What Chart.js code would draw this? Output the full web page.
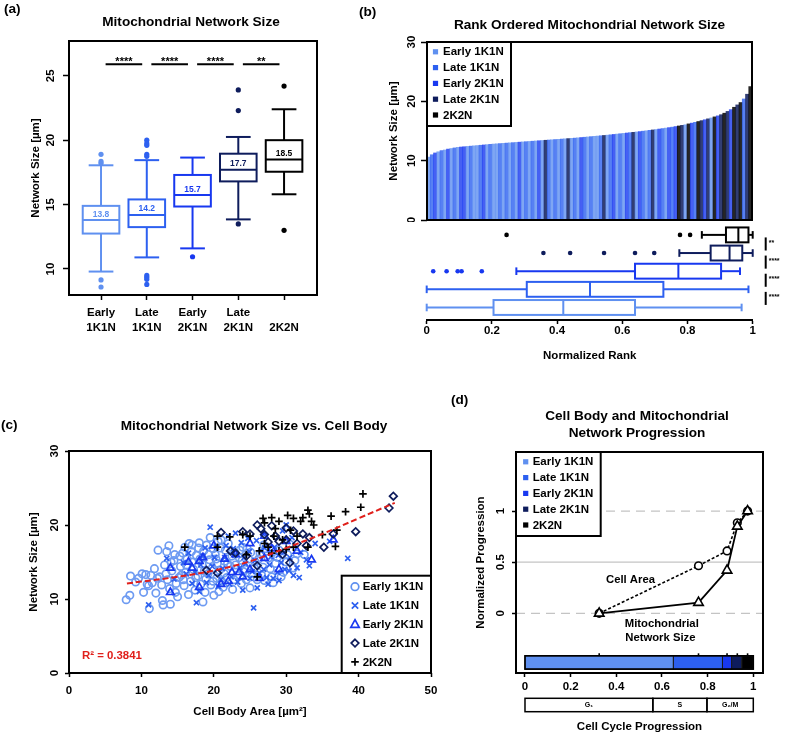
<!DOCTYPE html>
<html>
<head>
<meta charset="utf-8">
<title>Mitochondrial network size</title>
<script src="https://cdn.jsdelivr.net/npm/chart.js@4.4.1/dist/chart.umd.min.js"></script>
<style>
  html, body { margin: 0; padding: 0; background: #fff; }
  body { position: relative; width: 787px; height: 735px; overflow: hidden;
         font-family: "Liberation Sans", Arial, sans-serif; font-weight: bold; color: #000; }
  canvas { position: absolute; }
  .t { position: absolute; font-size: 13.6px; line-height: 16px; white-space: nowrap; }
  .c { text-align: center; width: 400px; }
</style>
</head>
<body>
<canvas id="chartA" width="340" height="345" style="left:0;top:0"></canvas>
<canvas id="chartB" width="400" height="222" style="left:380px;top:0"></canvas>
<canvas id="chartBox" width="407" height="150" style="left:380px;top:222px"></canvas>
<canvas id="chartC" width="450" height="355" style="left:0;top:380px"></canvas>
<canvas id="chartD" width="337" height="355" style="left:450px;top:380px"></canvas>

<div class="t" style="left:4px;top:1px">(a)</div>
<div class="t c" style="left:-9px;top:14px">Mitochondrial Network Size</div>
<div class="t" style="left:359px;top:4px">(b)</div>
<div class="t c" style="left:389.5px;top:17px">Rank Ordered Mitochondrial Network Size</div>
<div class="t" style="left:1px;top:417px">(c)</div>
<div class="t c" style="left:54px;top:418px">Mitochondrial Network Size vs. Cell Body</div>
<div class="t" style="left:451px;top:392px">(d)</div>
<div class="t c" style="left:437px;top:408px;line-height:16.6px">Cell Body and Mitochondrial<br>Network Progression</div>

<script>
const FONT = '"Liberation Sans", Arial, sans-serif';

// groups and their colours
const groups = ['Early 1K1N', 'Late 1K1N', 'Early 2K1N', 'Late 2K1N', '2K2N'];
const groupColors = ['#5f90f0', '#2d60f0', '#1838f0', '#0e1c5c', '#000000'];
const barColors = ['rgba(95,144,240,0.8)', 'rgba(45,96,240,0.8)', 'rgba(24,56,240,0.8)', 'rgba(14,28,92,0.85)', 'rgba(0,0,0,0.85)'];

// (a) network size per stage [µm]
const aTicksY = [10, 15, 20, 25];
const aTickLabels = [['Early', '1K1N'], ['Late', '1K1N'], ['Early', '2K1N'], ['Late', '2K1N'], ['', '2K2N']];
const aLow = [9.8, 10.9, 11.6, 13.85, 15.8];
const aQ1 = [12.75, 13.25, 14.85, 16.8, 17.55];
const aMed = [13.8, 14.2, 15.75, 17.7, 18.5];
const aQ3 = [14.9, 15.4, 17.3, 18.95, 20.0];
const aHigh = [18.05, 18.45, 18.65, 20.25, 22.4];
const aMedLabels = ['13.8', '14.2', '15.7', '17.7', '18.5'];
const aOutliers = [
  [18.9, 18.35, 18.2, 9.15, 8.6],
  [20.0, 19.75, 19.6, 18.9, 18.75, 9.5, 9.35, 9.2, 8.8],
  [10.95],
  [23.9, 22.3, 13.5],
  [24.2, 13.0]
];
const aSigPairs = [[1, 2], [2, 3], [3, 4], [4, 5]];
const aSigLabels = ['****', '****', '****', '**'];
const aSigLevel = 25.9;

// (b) rank ordered network size, one bar per cell (group index per bar)
const bTicksY = [0, 10, 20, 30];
const rankValues = [
  10.6, 11.0, 11.3, 11.5, 11.7, 11.8, 11.95, 12.05, 12.15, 12.25,
  12.3, 12.35, 12.4, 12.45, 12.5, 12.55, 12.6, 12.65, 12.7, 12.75,
  12.8, 12.84, 12.88, 12.92, 12.96, 13.0, 13.04, 13.08, 13.12, 13.16,
  13.2, 13.24, 13.28, 13.32, 13.36, 13.4, 13.44, 13.48, 13.52, 13.56,
  13.6, 13.64, 13.68, 13.72, 13.76, 13.8, 13.85, 13.9, 13.95, 14.0,
  14.05, 14.1, 14.15, 14.2, 14.25, 14.3, 14.36, 14.42, 14.48, 14.54,
  14.6, 14.66, 14.72, 14.78, 14.84, 14.9, 14.97, 15.04, 15.11, 15.18,
  15.25, 15.33, 15.41, 15.49, 15.57, 15.65, 15.75, 15.85, 15.95, 16.05,
  16.2, 16.33, 16.46, 16.6, 16.75, 16.9, 17.05, 17.2, 17.38, 17.55,
  17.75, 18.0, 18.3, 18.6, 19.0, 19.4, 19.8, 20.4, 21.2, 22.5
];
const rankGroups = [
  0, 1, 2, 0, 1, 0, 2, 0, 1, 0,
  2, 2, 0, 1, 0, 0, 1, 2, 0, 1,
  0, 0, 1, 0, 1, 0, 1, 0, 2, 0,
  1, 0, 1, 0, 2, 0, 3, 1, 0, 1,
  0, 1, 0, 3, 0, 1, 0, 2, 1, 0,
  1, 0, 0, 1, 3, 0, 1, 2, 0, 1,
  0, 2, 1, 3, 0, 2, 1, 0, 1, 3,
  0, 2, 1, 0, 2, 1, 2, 4, 3, 0,
  4, 2, 1, 4, 3, 2, 3, 0, 4, 2,
  3, 4, 3, 2, 4, 3, 4, 1, 3, 4
];

// (b) normalized rank box plots
const bTicksX = [0, 0.2, 0.4, 0.6, 0.8, 1];
const bLow = [0, 0, 0.275, 0.775, 0.844];
const bQ1 = [0.205, 0.307, 0.639, 0.871, 0.918];
const bMed = [0.419, 0.501, 0.772, 0.929, 0.956];
const bQ3 = [0.639, 0.726, 0.903, 0.968, 0.987];
const bHigh = [0.966, 0.987, 0.961, 1.0, 1.0];
const bOutliers = [[], [], [0.02, 0.061, 0.095, 0.107, 0.169], [0.358, 0.44, 0.544, 0.639, 0.698], [0.245, 0.777, 0.808]];
const bSigLabels = ['****', '****', '****', '**'];

// (c) cell body area [µm²] vs network size [µm]
const cTicksX = [0, 10, 20, 30, 40, 50];
const cTicksY = [0, 10, 20, 30];
const cEarly1K1N = [[7.9,9.9],[8.4,10.5],[8.5,13.1],[9.2,12.3],[9.6,12.8],[10.1,13.4],[10.6,13.3],[11.0,11.8],[11.1,8.7],[11.5,12.2],
  [11.8,14.1],[12.0,10.8],[12.3,16.6],[12.5,13.0],[12.8,11.9],[13.0,9.2],[13.2,14.6],[13.5,16.4],[13.6,12.6],[13.9,11.4],
  [14.2,13.8],[14.5,15.2],[14.7,10.9],[15.0,10.3],[15.2,12.9],[15.4,14.4],[15.7,16.2],[15.9,11.8],[16.1,13.6],[16.3,15.4],
  [16.5,10.6],[16.8,12.4],[17.0,17.3],[17.2,14.0],[17.4,11.2],[17.6,15.9],[17.8,13.1],[18.0,17.6],[18.2,12.0],[18.4,14.7],
  [18.6,16.5],[18.8,10.9],[19.0,17.3],[19.2,13.4],[19.4,15.3],[19.6,11.9],[19.8,14.2],[20.0,10.5],[20.2,16.0],[20.4,12.8],
  [20.6,17.8],[20.8,13.9],[21.0,18.0],[21.3,11.6],[21.5,15.1],[21.8,12.9],[22.0,17.5],[22.3,14.4],[22.6,11.3],[22.9,16.3],
  [23.2,13.2],[23.5,15.6],[23.8,12.1],[24.0,17.0],[24.3,14.0],[24.6,16.8],[25.0,11.5],[25.3,13.5],[25.7,15.0],[26.0,12.6],
  [26.4,16.1],[26.8,14.3],[27.0,12.5],[27.5,15.5],[28.0,13.0],[28.5,14.8],[29.0,16.6],[29.6,13.6],[30.0,15.0],[30.5,17.4],
  [31.0,14.2],[31.5,16.1],[32.5,16.0],[13.8,17.2],[16.6,17.5],[19.5,18.3],[10.3,10.9],[12.9,9.8],[14.0,9.3],[18.5,9.6],
  [15.5,13.2],[17.0,15.0],[18.9,12.7],[20.5,14.8],[21.6,16.6],[22.8,12.6],[24.8,15.4],[16.0,17.0],[14.8,12.1],[19.9,16.8],
  [14.6,16.0],[15.3,15.8],[16.2,14.6],[16.9,16.4],[17.5,12.9],[18.1,15.4],[18.7,13.8],[19.3,16.0],[19.9,12.4],[20.3,15.4],
  [20.9,16.9],[21.4,13.5],[21.9,14.8],[22.5,15.8],[23.0,14.6],[23.6,16.6],[24.1,13.7],[24.5,12.6],[25.1,16.3],[25.6,14.2],
  [26.2,15.4],[26.6,13.2],[27.2,16.8],[27.8,14.1],[28.2,12.2],[28.8,15.6],[29.3,13.0],[30.2,16.0],[31.2,15.2],[13.4,13.4],
  [12.2,12.8],[11.3,13.2],[10.8,12.0],[15.8,12.6],[17.9,16.9],[21.1,12.4],[23.9,15.2],[26.9,17.3],[14.1,15.0],[20.7,11.0]];
const cLate1K1N = [[11.0,9.2],[13.5,15.5],[14.5,12.7],[15.8,14.9],[16.5,16.2],[17.0,12.1],[17.6,9.5],[18.2,14.6],[18.8,16.9],[19.3,13.2],
  [19.5,19.7],[20.1,15.6],[20.6,11.7],[21.2,14.1],[21.7,17.2],[22.0,18.5],[22.4,13.0],[22.9,15.9],[23.3,12.3],[23.8,17.6],
  [24.0,11.2],[24.4,14.8],[24.9,16.4],[25.3,13.7],[25.5,8.8],[25.9,17.9],[26.5,16.5],[26.9,14.0],[27.3,12.9],[27.5,12.0],
  [27.9,15.7],[28.4,17.0],[29.0,12.5],[29.3,14.9],[29.7,16.3],[30.0,20.0],[30.4,13.8],[30.8,18.3],[31.0,13.2],[31.5,14.2],
  [32.0,16.3],[32.8,15.3],[34.0,17.5],[36.0,17.8],[38.5,15.5],[21.0,12.6],[18.0,11.0],[26.0,11.5],[28.8,13.6],[23.0,18.9],
  [17.4,13.6],[18.5,15.8],[19.8,14.4],[20.4,17.0],[21.5,15.6],[22.2,12.0],[22.7,16.8],[23.6,14.2],[24.2,15.6],[25.0,12.8],
  [25.7,15.2],[26.3,13.5],[27.0,16.9],[27.7,14.6],[28.2,12.8],[28.9,15.9],[29.8,14.0],[30.5,15.6],[31.8,12.9],[33.2,14.5],
  [19.0,12.2],[16.2,13.4],[24.7,18.2],[26.8,18.8],[29.5,19.2]];
const cEarly2K1N = [[14.0,10.9],[14.0,14.2],[16.5,15.0],[17.0,14.2],[18.0,11.6],[18.0,15.1],[18.5,15.6],[20.0,17.2],[21.0,12.0],[21.5,15.4],
  [22.0,12.4],[22.5,13.6],[23.0,16.0],[23.5,13.6],[24.0,13.0],[25.0,14.0],[25.0,17.5],[26.3,12.8],[27.0,15.5],[27.0,18.5],
  [28.0,16.8],[29.0,14.0],[30.0,17.8],[31.5,16.5],[33.5,15.3],[36.5,18.0]];
const cLate2K1N = [[19.0,13.9],[20.5,13.5],[21.0,19.0],[22.3,16.5],[23.0,16.2],[24.5,15.8],[26.0,20.0],[26.5,19.5],[26.0,14.5],[27.0,18.7],
  [27.5,17.7],[28.5,18.5],[29.0,17.8],[29.5,16.0],[30.0,19.6],[30.5,14.9],[31.0,19.2],[31.5,17.5],[32.3,18.8],[32.8,17.2],
  [33.2,18.3],[35.2,17.0],[36.5,18.8],[39.6,19.1],[44.2,22.3],[44.8,23.9],[25.0,18.8],[24.0,19.1],[28.0,19.9],[30.0,18.0]];
const c2K2N = [[16.0,17.0],[20.5,18.5],[20.5,17.0],[22.2,18.4],[24.0,18.7],[24.5,16.0],[25.0,18.5],[26.0,13.0],[26.3,16.5],[26.8,20.9],
  [27.0,17.5],[27.5,17.0],[28.0,21.0],[28.3,18.5],[28.5,19.5],[29.0,16.5],[29.5,18.0],[30.0,16.7],[30.2,21.3],[30.6,19.3],
  [31.0,20.9],[31.5,18.5],[32.0,20.5],[32.3,21.0],[33.0,22.0],[33.2,21.5],[33.5,20.5],[33.0,17.0],[33.8,20.0],[35.0,18.7],
  [36.2,21.2],[36.8,17.1],[37.0,19.3],[38.2,21.8],[40.3,22.4],[40.6,24.2],[27.0,20.3],[29.0,20.5],[28.0,16.2],[31.0,17.0]];
const cTrendX = [8, 10, 15, 20, 25, 30, 35, 40, 45];
const cTrendY = [12.1, 12.35, 13.0, 13.85, 15.1, 16.9, 18.8, 20.9, 23.0];
const cR2 = 'R² = 0.3841';

// (d) normalized progression along the cell cycle
const dTicksX = [0, 0.2, 0.4, 0.6, 0.8, 1];
const dTicksY = [0, 0.5, 1];
const stageX = [0.325, 0.76, 0.885, 0.93, 0.975];
const cellArea = [0, 0.465, 0.61, 0.885, 1.0];
const mitoSize = [0, 0.105, 0.42, 0.85, 1.0];
const stageEnd = [0.65, 0.865, 0.905, 0.95, 1.0];
const phases = ['G₁', 'S', 'G₂/M'];
const phaseEnd = [0.56, 0.797, 1.0];

Chart.defaults.font.family = FONT;
Chart.defaults.font.weight = 'bold';
Chart.defaults.color = '#000';
Chart.defaults.animation = false;
Chart.defaults.plugins.legend.display = false;
Chart.defaults.plugins.tooltip.enabled = false;

const font = (size, lineHeight) => ({ family: FONT, size, weight: 'bold', lineHeight: lineHeight || 1.2 });
const plainNumber = v => String(v);

function vAxis(o) {
  return {
    type: 'linear', min: o.min, max: o.max,
    afterFit: s => { s.width = o.width; s.paddingTop = 0; s.paddingBottom = 0; },
    afterBuildTicks: s => { s.ticks = o.ticks.map(v => ({ value: v })); },
    ticks: { minRotation: 90, maxRotation: 90, crossAlign: 'center', padding: o.pad, color: '#000',
             font: font(11.5), callback: plainNumber },
    grid: { drawOnChartArea: false, drawTicks: true, tickLength: o.tickLen, tickColor: '#000', tickWidth: 1.5 },
    border: { display: false },
    title: { display: true, text: o.title, color: '#000', font: font(11.5), padding: { top: o.titlePad, bottom: 0 } }
  };
}

function hAxis(o) {
  return {
    type: 'linear', min: o.min, max: o.max,
    afterFit: s => { s.height = o.height; s.paddingLeft = 0; s.paddingRight = 0; },
    afterBuildTicks: s => { s.ticks = o.ticks.map(v => ({ value: v })); },
    ticks: { autoSkip: false, minRotation: 0, maxRotation: 0, padding: o.pad, color: '#000',
             font: font(11.5, o.lineHeight), callback: o.callback || plainNumber },
    grid: { drawOnChartArea: false, drawTicks: true, tickLength: o.tickLen, tickColor: '#000', tickWidth: 1.5 },
    border: { display: !!o.axisLine, color: '#000', width: 2 },
    title: o.title
      ? { display: true, text: o.title, color: '#000', font: font(11.5), padding: { top: 0, bottom: o.titlePad } }
      : { display: false }
  };
}

function baseOptions(padding, scales) {
  return { responsive: false, maintainAspectRatio: false, devicePixelRatio: 1, events: [], layout: { padding }, scales };
}

function line(ctx, x0, y0, x1, y1) {
  ctx.beginPath(); ctx.moveTo(x0, y0); ctx.lineTo(x1, y1); ctx.stroke();
}

function drawMarker(ctx, style, x, y, color) {
  ctx.save();
  ctx.strokeStyle = color; ctx.fillStyle = color; ctx.lineWidth = 1.7;
  ctx.beginPath();
  if (style === 'square') {
    ctx.fillRect(x - 2.6, y - 2.6, 5.2, 5.2);
  } else if (style === 'circle') {
    ctx.arc(x, y, 3.8, 0, Math.PI * 2); ctx.stroke();
  } else if (style === 'crossRot') {
    ctx.moveTo(x - 3.2, y - 3.2); ctx.lineTo(x + 3.2, y + 3.2);
    ctx.moveTo(x - 3.2, y + 3.2); ctx.lineTo(x + 3.2, y - 3.2); ctx.stroke();
  } else if (style === 'triangle') {
    ctx.moveTo(x, y - 4.6); ctx.lineTo(x + 4.2, y + 3); ctx.lineTo(x - 4.2, y + 3); ctx.closePath(); ctx.stroke();
  } else if (style === 'rectRot') {
    ctx.moveTo(x, y - 3.8); ctx.lineTo(x + 3.8, y); ctx.lineTo(x, y + 3.8); ctx.lineTo(x - 3.8, y); ctx.closePath(); ctx.stroke();
  } else if (style === 'cross') {
    ctx.moveTo(x - 3.8, y); ctx.lineTo(x + 3.8, y);
    ctx.moveTo(x, y - 3.8); ctx.lineTo(x, y + 3.8); ctx.stroke();
  }
  ctx.restore();
}

// black box round the plotting region
const frame = {
  id: 'frame',
  afterDatasetsDraw(chart) {
    const { ctx, chartArea: a } = chart;
    ctx.save();
    ctx.strokeStyle = '#000'; ctx.lineWidth = 2;
    ctx.strokeRect(a.left, a.top, a.right - a.left, a.bottom - a.top);
    ctx.restore();
  }
};

function makeLegend(id, place, styles) {
  return {
    id,
    afterDraw(chart) {
      const { ctx, chartArea } = chart;
      const p = place(chartArea);
      ctx.save();
      ctx.fillStyle = '#fff';
      ctx.fillRect(p.x, p.y, p.w, p.h);
      ctx.strokeStyle = '#000'; ctx.lineWidth = 2;
      ctx.strokeRect(p.x, p.y, p.w, p.h);
      ctx.font = 'bold 11.5px ' + FONT;
      ctx.textAlign = 'left'; ctx.textBaseline = 'middle';
      groups.forEach((g, i) => {
        const yy = p.first + i * p.step;
        drawMarker(ctx, styles[i], p.mx, yy, groupColors[i]);
        ctx.fillStyle = '#000';
        ctx.fillText(g, p.tx, yy + 0.5);
      });
      ctx.restore();
    }
  };
}

// (a) vertical box plots
const boxA = {
  id: 'boxA',
  beforeDatasetsDraw(chart) {
    const { ctx, scales: { x, y } } = chart;
    const px = v => x.getPixelForValue(v), py = v => y.getPixelForValue(v);
    const hw = px(1.4) - px(1), cw = px(1.27) - px(1);
    ctx.save();
    ctx.lineWidth = 2;
    groups.forEach((g, i) => {
      const c = px(i + 1);
      ctx.strokeStyle = groupColors[i];
      line(ctx, c, py(aLow[i]), c, py(aQ1[i]));
      line(ctx, c, py(aQ3[i]), c, py(aHigh[i]));
      line(ctx, c - cw, py(aLow[i]), c + cw, py(aLow[i]));
      line(ctx, c - cw, py(aHigh[i]), c + cw, py(aHigh[i]));
      ctx.fillStyle = '#fff';
      ctx.fillRect(c - hw, py(aQ3[i]), 2 * hw, py(aQ1[i]) - py(aQ3[i]));
      ctx.strokeRect(c - hw, py(aQ3[i]), 2 * hw, py(aQ1[i]) - py(aQ3[i]));
      line(ctx, c - hw, py(aMed[i]), c + hw, py(aMed[i]));
      ctx.fillStyle = groupColors[i];
      ctx.font = 'bold 8.5px ' + FONT;
      ctx.textAlign = 'center'; ctx.textBaseline = 'bottom';
      ctx.fillText(aMedLabels[i], c, py(aMed[i]) - 1.5);
    });
    ctx.strokeStyle = '#000'; ctx.fillStyle = '#000';
    ctx.font = 'bold 11px ' + FONT;
    ctx.textBaseline = 'alphabetic';
    aSigPairs.forEach(([p, q], k) => {
      const ys = py(aSigLevel);
      line(ctx, px(p + 0.1), ys, px(q - 0.1), ys);
      ctx.fillText(aSigLabels[k], (px(p) + px(q)) / 2, ys + 1);
    });
    ctx.restore();
  }
};

// (b) horizontal box plots of normalized rank
const boxB = {
  id: 'boxB',
  beforeDatasetsDraw(chart) {
    const { ctx, chartArea: a, scales: { x, y } } = chart;
    const px = v => x.getPixelForValue(v), py = v => y.getPixelForValue(v);
    const hh = py(1) - py(1.41), ch = 3.8;
    ctx.save();
    ctx.lineWidth = 2;
    groups.forEach((g, i) => {
      const c = py(i + 1);
      ctx.strokeStyle = groupColors[i];
      line(ctx, px(bLow[i]), c, px(bQ1[i]), c);
      line(ctx, px(bQ3[i]), c, px(bHigh[i]), c);
      line(ctx, px(bLow[i]), c - ch, px(bLow[i]), c + ch);
      line(ctx, px(bHigh[i]), c - ch, px(bHigh[i]), c + ch);
      ctx.fillStyle = '#fff';
      ctx.fillRect(px(bQ1[i]), c - hh, px(bQ3[i]) - px(bQ1[i]), 2 * hh);
      ctx.strokeRect(px(bQ1[i]), c - hh, px(bQ3[i]) - px(bQ1[i]), 2 * hh);
      line(ctx, px(bMed[i]), c - hh, px(bMed[i]), c + hh);
    });
    const sx = a.right + 13;
    ctx.strokeStyle = '#000'; ctx.fillStyle = '#000';
    ctx.font = 'bold 7px ' + FONT;
    ctx.textAlign = 'left'; ctx.textBaseline = 'middle';
    bSigLabels.forEach((lab, k) => {
      const y0 = py(k + 1.14), y1 = py(k + 1.86);
      line(ctx, sx, y0, sx, y1);
      ctx.fillText(lab, sx + 3, (y0 + y1) / 2 - 1);
    });
    ctx.restore();
  }
};

// (c) R² note
const r2Note = {
  id: 'r2Note',
  afterDatasetsDraw(chart) {
    const { ctx, chartArea: a } = chart;
    ctx.save();
    ctx.fillStyle = '#e0201b';
    ctx.font = 'bold 11.4px ' + FONT;
    ctx.textAlign = 'left'; ctx.textBaseline = 'middle';
    ctx.fillText(cR2, a.left + 13, a.bottom - 17);
    ctx.restore();
  }
};

// (d) guides, stage bar, notes and cell cycle phases
const dExtras = {
  id: 'dExtras',
  beforeDatasetsDraw(chart) {
    const { ctx, chartArea: a, scales: { x, y } } = chart;
    const px = v => x.getPixelForValue(v), py = v => y.getPixelForValue(v);
    ctx.save();
    ctx.lineWidth = 1.3;
    ctx.strokeStyle = '#c4c4c4';
    dTicksY.forEach(v => {
      ctx.setLineDash(v === 0.5 ? [] : [9, 6]);
      line(ctx, a.left, py(v), a.right, py(v));
    });
    ctx.setLineDash([]);
    const top = py(-0.415), bot = py(-0.545);
    let from = 0;
    stageEnd.forEach((to, i) => {
      ctx.fillStyle = groupColors[i];
      ctx.fillRect(px(from), top, px(to) - px(from), bot - top);
      ctx.strokeStyle = '#1a1a1a'; ctx.lineWidth = 1;
      ctx.strokeRect(px(from), top, px(to) - px(from), bot - top);
      from = to;
    });
    ctx.strokeStyle = '#000'; ctx.lineWidth = 1.6;
    ctx.strokeRect(px(0), top, px(1) - px(0), bot - top);
    stageX.forEach(v => line(ctx, px(v), top - 2.5, px(v), top));
    ctx.fillStyle = '#000';
    ctx.font = 'bold 11.3px ' + FONT;
    ctx.textAlign = 'center'; ctx.textBaseline = 'middle';
    ctx.fillText('Cell Area', px(0.462), py(0.326));
    ctx.fillText('Mitochondrial', px(0.599), py(-0.105));
    ctx.fillText('Network Size', px(0.593), py(-0.237));
    ctx.restore();
  },
  afterDraw(chart) {
    const { ctx, chartArea: a, scales: { x } } = chart;
    const px = v => x.getPixelForValue(v);
    const top = a.bottom + 25.3, h = 13.4;
    ctx.save();
    ctx.strokeStyle = '#000'; ctx.lineWidth = 1.5;
    ctx.fillStyle = '#000';
    ctx.font = 'bold 7px ' + FONT;
    ctx.textAlign = 'center'; ctx.textBaseline = 'middle';
    let from = 0;
    phases.forEach((ph, i) => {
      ctx.strokeRect(px(from), top, px(phaseEnd[i]) - px(from), h);
      ctx.fillText(ph, (px(from) + px(phaseEnd[i])) / 2, top + h / 2);
      from = phaseEnd[i];
    });
    ctx.restore();
  }
};

// ---- (a) ----
new Chart(document.getElementById('chartA'), {
  type: 'scatter',
  data: {
    datasets: groups.map((g, i) => ({
      label: g,
      data: aOutliers[i].map(v => ({ x: i + 1, y: v })),
      pointRadius: 2.6, borderWidth: 0,
      backgroundColor: groupColors[i], borderColor: groupColors[i]
    }))
  },
  options: baseOptions({ left: 0, top: 41, right: 23, bottom: 0 }, {
    x: hAxis({ min: 0.3, max: 5.72, ticks: [1, 2, 3, 4, 5], height: 50, tickLen: 5, pad: 5.8, lineHeight: 1.25,
               callback: v => aTickLabels[v - 1] }),
    y: vAxis({ min: 7.98, max: 27.7, ticks: aTicksY, width: 69, tickLen: 6, pad: 5.5,
               title: 'Network Size [µm]', titlePad: 29.3 })
  }),
  plugins: [boxA, frame]
});

// ---- (b) bars ----
new Chart(document.getElementById('chartB'), {
  type: 'bar',
  data: {
    labels: rankValues.map((v, i) => i + 1),
    datasets: [{
      data: rankValues,
      backgroundColor: rankGroups.map(g => barColors[g]),
      borderWidth: 0, barPercentage: 1, categoryPercentage: 1
    }]
  },
  options: baseOptions({ left: 0, top: 42, right: 28, bottom: 2 }, {
    x: { display: false },
    y: vAxis({ min: 0, max: 30, ticks: bTicksY, width: 47, tickLen: 6, pad: 2.9,
               title: 'Network Size [µm]', titlePad: 7.3 })
  }),
  plugins: [frame, makeLegend('legendB', a => ({ x: a.left, y: a.top, w: 84, h: 84, first: a.top + 9.8, step: 15.8,
                                                mx: a.left + 8.5, tx: a.left + 16 }), Array(5).fill('square'))]
});

// ---- (b) box plots ----
new Chart(document.getElementById('chartBox'), {
  type: 'scatter',
  data: {
    datasets: groups.map((g, i) => ({
      label: g,
      data: bOutliers[i].map(v => ({ x: v, y: i + 1 })),
      pointRadius: 2.3, borderWidth: 0,
      backgroundColor: groupColors[i], borderColor: groupColors[i]
    }))
  },
  options: baseOptions({ left: 46.7, top: 3, right: 34.3, bottom: 0 }, {
    x: hAxis({ min: 0, max: 1, ticks: bTicksX, height: 52, tickLen: 4, pad: 0, axisLine: true,
               title: 'Normalized Rank', titlePad: 9.3 }),
    y: { display: false, min: 0.31, max: 5.49 }
  }),
  plugins: [boxB]
});

// ---- (c) ----
const toXY = pts => pts.map(p => ({ x: p[0], y: p[1] }));
const cSeries = [cEarly1K1N, cLate1K1N, cEarly2K1N, cLate2K1N, c2K2N];
const cStyles = ['circle', 'crossRot', 'triangle', 'rectRot', 'cross'];
const cRadius = [3.7, 3.6, 4.3, 3.8, 3.8];
new Chart(document.getElementById('chartC'), {
  type: 'scatter',
  data: {
    datasets: [{
      label: 'trend',
      data: cTrendX.map((x, i) => ({ x, y: cTrendY[i] })),
      showLine: true, pointRadius: 0, borderColor: '#e0201b', borderWidth: 2,
      borderDash: [6, 3], tension: 0.4, order: 0
    }].concat(cSeries.map((pts, i) => ({
      label: groups[i],
      data: toXY(pts),
      pointStyle: cStyles[i], pointRadius: cRadius[i], borderWidth: 1.7,
      borderColor: i === 0 ? '#6e9bf2' : groupColors[i], backgroundColor: 'rgba(0,0,0,0)',
      order: 5 - i
    })))
  },
  options: baseOptions({ left: 0, top: 71, right: 19, bottom: 0 }, {
    x: hAxis({ min: 0, max: 50, ticks: cTicksX, height: 62, tickLen: 4, pad: 6.6,
               title: 'Cell Body Area [µm²]', titlePad: 15.8 }),
    y: vAxis({ min: 0, max: 30, ticks: cTicksY, width: 69, tickLen: 4, pad: 3.6,
               title: 'Network Size [µm]', titlePad: 27.4 })
  }),
  plugins: [r2Note, frame, makeLegend('legendC', a => ({ x: a.right - 89.3, y: a.bottom - 97.3, w: 89.3, h: 97.3,
                                                        first: a.bottom - 86.3, step: 18.8,
                                                        mx: a.right - 76, tx: a.right - 68.3 }), cStyles)]
});

// ---- (d) ----
new Chart(document.getElementById('chartD'), {
  type: 'scatter',
  data: {
    datasets: [{
      label: 'Mitochondrial Network Size',
      data: stageX.map((x, i) => ({ x, y: mitoSize[i] })),
      showLine: true, borderColor: '#000', borderWidth: 1.8,
      pointStyle: 'triangle', pointRadius: 5.5, pointBorderWidth: 1.6,
      pointBorderColor: '#000', pointBackgroundColor: '#fff', order: 0
    }, {
      label: 'Cell Area',
      data: stageX.map((x, i) => ({ x, y: cellArea[i] })),
      showLine: true, borderColor: '#000', borderWidth: 1.6, borderDash: [3, 2],
      pointStyle: 'circle', pointRadius: 3.8, pointBorderWidth: 1.6,
      pointBorderColor: '#000', pointBackgroundColor: '#fff', order: 1
    }]
  },
  options: baseOptions({ left: 0, top: 72, right: 24, bottom: 0 }, {
    x: hAxis({ min: -0.0394, max: 1.0425, ticks: dTicksX, height: 62, tickLen: 4, pad: 2.8,
               title: 'Cell Cycle Progression', titlePad: 1.4 }),
    y: vAxis({ min: -0.583, max: 1.577, ticks: dTicksY, width: 66, tickLen: 4, pad: 3.3,
               title: 'Normalized Progression', titlePad: 24.1 })
  }),
  plugins: [dExtras, frame, makeLegend('legendD', a => ({ x: a.left, y: a.top, w: 84.7, h: 84, first: a.top + 9.8, step: 15.8,
                                                        mx: a.left + 9.7, tx: a.left + 16.7 }), Array(5).fill('square'))]
});
</script>
</body>
</html>
